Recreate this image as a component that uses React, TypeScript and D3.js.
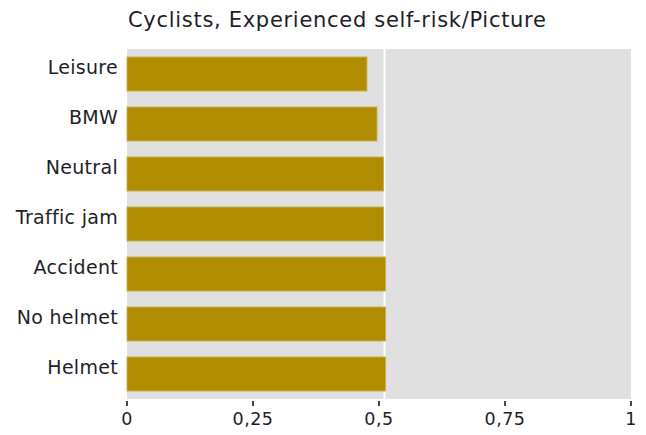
import React from "react";
import * as d3 from "d3";

const categories = ["Leisure", "BMW", "Neutral", "Traffic jam", "Accident", "No helmet", "Helmet"];
const values = [0.476, 0.496, 0.509, 0.509, 0.513, 0.513, 0.513];
const refValue = [0.511];
const tickValues = [0, 0.25, 0.5, 0.75, 1];
const tickLabels = ["0", "0,25", "0,5", "0,75", "1"];
const title = "Cyclists, Experienced self-risk/Picture";

const W = 646;
const H = 435;
const M = { left: 127, right: 15, top: 49, bottom: 36 };
const FONT = "'DejaVu Sans', Verdana, sans-serif";

export default function App() {
  const x = d3.scaleLinear().domain([0, 1]).range([M.left, W - M.right]);
  const y = d3
    .scaleBand<string>()
    .domain(categories)
    .range([M.top, H - M.bottom])
    .paddingInner(0.32)
    .paddingOuter(0.16);
  const plotBottom = H - M.bottom;
  return (
    <svg
      width={W}
      height={H}
      style={{ position: "absolute", left: 0, top: 0, background: "#fff" }}
      fontFamily={FONT}
    >
      <text x={M.left + 1} y={27} fontSize={21} letterSpacing={0.7} fill="#1e1e28">
        {title}
      </text>
      <rect x={M.left} y={M.top} width={W - M.right - M.left} height={plotBottom - M.top} fill="#e0e0e0" />
      {refValue.map((v, i) => (
        <line key={i} x1={x(v)} x2={x(v)} y1={M.top} y2={plotBottom} stroke="#fff" strokeWidth={2} />
      ))}
      {categories.map((c, i) => (
        <g key={c}>
          <rect
            x={x(0)}
            y={y(c)!}
            width={x(values[i]) - x(0)}
            height={y.bandwidth()}
            fill="#b08c00"
            stroke="#c9ae55"
            strokeWidth={1}
          />
          <text
            x={M.left - 9}
            y={y(c)! + y.bandwidth() / 2}
            textAnchor="end"
            fontSize={19}
            letterSpacing={0.3}
            fill="#1e1e28"
          >
            {c}
          </text>
        </g>
      ))}
      {tickValues.map((t, i) => (
        <g key={t}>
          <line x1={x(t)} x2={x(t)} y1={plotBottom + 2} y2={plotBottom + 7} stroke="#333" strokeWidth={1.8} />
          <text x={x(t)} y={plotBottom + 26} textAnchor="middle" fontSize={17.5} letterSpacing={0.5} fill="#1e1e28">
            {tickLabels[i]}
          </text>
        </g>
      ))}
    </svg>
  );
}
